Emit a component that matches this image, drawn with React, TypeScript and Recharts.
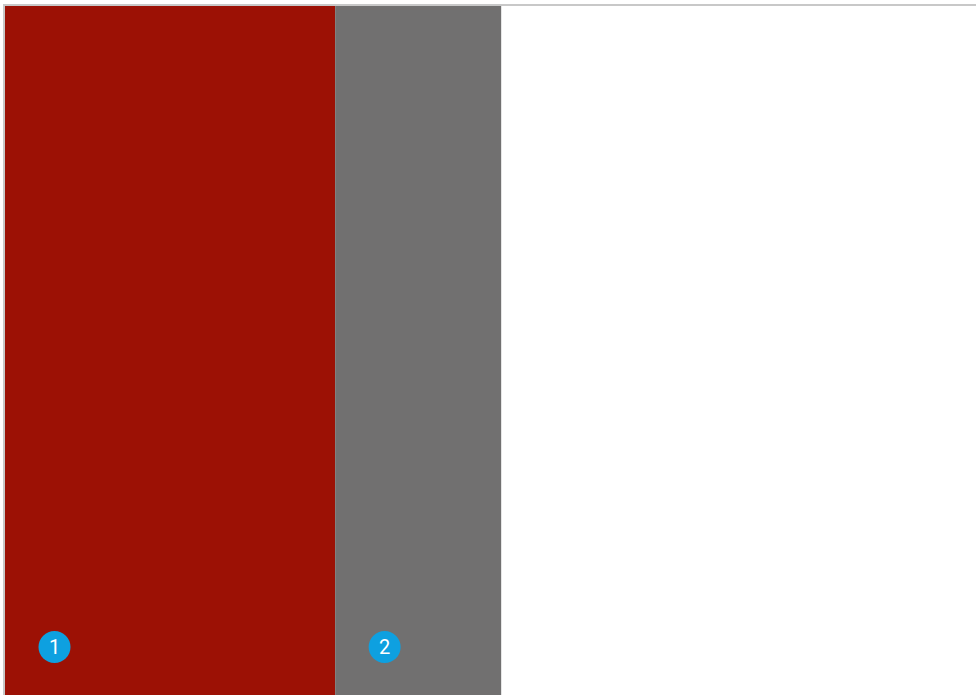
import React from 'react';
import { BarChart, Bar, XAxis, YAxis, LabelList } from 'recharts';

const categories = ['Total'];
const seriesOne = [34];
const seriesTwo = [17.1];
const badgeLabels = ['1', '2'];
const axisMax = 100;

const data = categories.map((c, i) => ({ name: c, one: seriesOne[i], two: seriesTwo[i] }));

const makeBadge = (label: string) => (props: any) => {
  const { x, y, height } = props;
  const cx = Number(x) + 49.5;
  const cy = Number(y) + Number(height) - 48;
  return (
    <g>
      <circle cx={cx} cy={cy} r={16} fill="#0ea0e0" />
      <text x={cx} y={cy} dy={7} textAnchor="middle" fill="#ffffff" fontSize={20} fontFamily="Roboto, sans-serif" fontWeight={400}>
        {label}
      </text>
    </g>
  );
};

export default function App() {
  return (
    <div style={{ position: 'absolute', left: 3, top: 4, borderTop: '2px solid #c8c8c8', borderLeft: '2px solid #c8c8c8', width: 973, height: 691, background: '#ffffff' }}>
      <BarChart
        width={971}
        height={689}
        data={data}
        layout="vertical"
        margin={{ top: 0, right: 0, bottom: 0, left: 0 }}
        barCategoryGap={0}
        barGap={0}
      >
        <XAxis type="number" domain={[0, axisMax]} hide />
        <YAxis type="category" dataKey="name" hide />
        <Bar dataKey="one" stackId="s" fill="#9c1105" isAnimationActive={false}>
          <LabelList dataKey="one" content={makeBadge(badgeLabels[0])} />
        </Bar>
        <Bar dataKey="two" stackId="s" fill="#717070" isAnimationActive={false}>
          <LabelList dataKey="two" content={makeBadge(badgeLabels[1])} />
        </Bar>
      </BarChart>
    </div>
  );
}
